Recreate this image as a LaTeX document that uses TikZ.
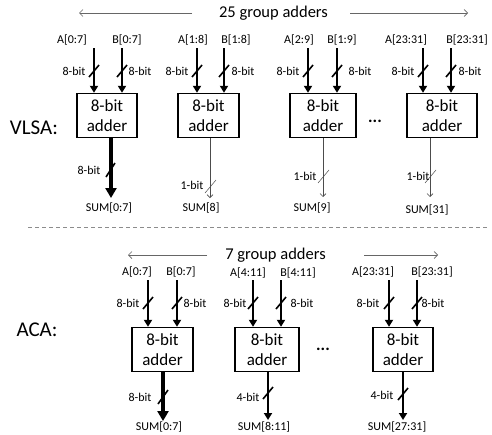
\documentclass[tikz,border=0pt]{standalone}
\usepackage{fontspec}
\setmainfont{Carlito}
\usetikzlibrary{arrows.meta}
\begin{document}
\begin{tikzpicture}[x=1pt,y=-1pt,
  lbl/.style={font=\fontsize{12}{14}\selectfont, inner sep=0pt},
  ttl/.style={font=\fontsize{16.5}{19}\selectfont, inner sep=0pt},
  big/.style={font=\fontsize{21}{24}\selectfont, inner sep=0pt},
  dots/.style={font=\fontsize{17}{20}\selectfont\bfseries, inner sep=0pt},
  adder/.style={draw, line width=1.4pt, align=center, inner sep=0pt,
    minimum height=44pt, font=\fontsize{17}{20}\selectfont},
  inarr/.style={line width=2.4pt, -{Triangle[width=8pt,length=7pt]}},
  outheavy/.style={line width=3.6pt, -{Triangle[width=11pt,length=10pt]}},
  outmed/.style={line width=2.4pt, -{Triangle[width=8pt,length=7pt]}},
  outthin/.style={line width=0.6pt, draw=black!70, -{Straight Barb[length=3pt,width=6pt]}},
  grparr/.style={line width=0.7pt, draw=black!60, -{Straight Barb[length=3.5pt,width=7pt]}},
  slk/.style={line width=1.6pt},
  sln/.style={line width=0.5pt, draw=black!70},
]
\useasboundingbox (0,0) rectangle (492,434);
\fill[white] (0,0) rectangle (492,434);

% ================= VLSA =================
\node[ttl] (t1) at (273.5,13) {25 group adders};
\coordinate (t1l) at (192,13); \coordinate (t1le) at (79,13);
\coordinate (t1r) at (350,13); \coordinate (t1re) at (468,13);
\draw[grparr] (t1l) -- (t1le);
\draw[grparr] (t1r) -- (t1re);

\node[big] (vlsa) at (34,128) {VLSA:};

\node[adder, minimum width=60pt] (v1) at (107,115.5) {8-bit\\adder};
\node[adder, minimum width=61pt] (v2) at (208.5,115.5) {8-bit\\adder};
\node[adder, minimum width=66pt] (v3) at (323,115.5) {8-bit\\adder};
\node[adder, minimum width=70pt] (v4) at (442,115.5) {8-bit\\adder};
\node[dots] (vd) at (375,121) {...};

% input labels
\node[lbl] (v1a) at (72,40) {A[0:7]};
\node[lbl] (v1b) at (127,40) {B[0:7]};
\node[lbl] (v2a) at (193,40) {A[1:8]};
\node[lbl] (v2b) at (236,40) {B[1:8]};
\node[lbl] (v3a) at (299,40) {A[2:9]};
\node[lbl] (v3b) at (342,40) {B[1:9]};
\node[lbl] (v4a) at (406,40) {A[23:31]};
\node[lbl] (v4b) at (467,40) {B[23:31]};

% input arrows
\foreach \n/\xa/\xb in {1/94/122, 2/197/224, 3/308/337, 4/423/451} {
  \coordinate (v\n as) at (\xa,48);
  \coordinate (v\n bs) at (\xb,48);
  \draw[inarr] (v\n as) -- (v\n as |- v\n.north);
  \draw[inarr] (v\n bs) -- (v\n bs |- v\n.north);
  \draw[slk] (\xa-5,77) -- (\xa+5,65);
  \draw[slk] (\xb-5,77) -- (\xb+5,65);
}
\node[lbl] at (74,71) {8-bit};
\node[lbl] at (140,71) {8-bit};
\node[lbl] at (177,71) {8-bit};
\node[lbl] at (243,71) {8-bit};
\node[lbl] at (288,71) {8-bit};
\node[lbl] at (360,71) {8-bit};
\node[lbl] at (403,71) {8-bit};
\node[lbl] at (470,71) {8-bit};

% outputs
\coordinate (v1o) at (111,198);
\draw[outheavy] (v1.south -| v1o) -- (v1o);
\draw[slk] (106,177) -- (115,163);
\node[lbl] at (89,170) {8-bit};
\node[lbl] (v1s) at (109,208) {SUM[0:7]};

\coordinate (v2o) at (210,198);
\draw[outthin] (v2.south -| v2o) -- (v2o);
\draw[sln] (205,193) -- (216,180);
\node[lbl] at (192,185) {1-bit};
\node[lbl] (v2s) at (201,208) {SUM[8]};

\coordinate (v3o) at (323,197);
\draw[outthin] (v3.south -| v3o) -- (v3o);
\draw[sln] (318,183) -- (329,170);
\node[lbl] at (305,176) {1-bit};
\node[lbl] (v3s) at (312,208) {SUM[9]};

\coordinate (v4o) at (430,197);
\draw[outthin] (v4.south -| v4o) -- (v4o);
\draw[sln] (425,183) -- (436,170);
\node[lbl] at (418,176) {1-bit};
\node[lbl] (v4s) at (427,210) {SUM[31]};

% separator
\coordinate (sepl) at (28,227); \coordinate (sepr) at (488,227);
\draw[black!45, line width=0.7pt, dash pattern=on 4pt off 3pt] (sepl) -- (sepr);

% ================= ACA =================
\node[ttl] (t2) at (275.5,255) {7 group adders};
\coordinate (t2l) at (207,255); \coordinate (t2le) at (128,255);
\coordinate (t2r) at (364,255); \coordinate (t2re) at (438,255);
\draw[grparr] (t2l) -- (t2le);
\draw[grparr] (t2r) -- (t2re);

\node[big] (aca) at (37,330) {ACA:};

\node[adder, minimum width=61pt] (c1) at (162.5,349.5) {8-bit\\adder};
\node[adder, minimum width=64pt] (c2) at (267,349.5) {8-bit\\adder};
\node[adder, minimum width=60pt] (c3) at (403,349.5) {8-bit\\adder};
\node[dots] (cd) at (323,349) {...};

\node[lbl] (c1a) at (137,272) {A[0:7]};
\node[lbl] (c1b) at (181,272) {B[0:7]};
\node[lbl] (c2a) at (248,273) {A[4:11]};
\node[lbl] (c2b) at (298,273) {B[4:11]};
\node[lbl] (c3a) at (373,272) {A[23:31]};
\node[lbl] (c3b) at (432,272) {B[23:31]};

\foreach \n/\xa/\xb in {1/148/177, 2/253/281, 3/389/417} {
  \coordinate (c\n as) at (\xa,280);
  \coordinate (c\n bs) at (\xb,280);
  \draw[inarr] (c\n as) -- (c\n as |- c\n.north);
  \draw[inarr] (c\n bs) -- (c\n bs |- c\n.north);
  \draw[slk] (\xa-5,309) -- (\xa+5,297);
  \draw[slk] (\xb-5,309) -- (\xb+5,297);
}
\node[lbl] at (128,303) {8-bit};
\node[lbl] at (195,303) {8-bit};
\node[lbl] at (235,303) {8-bit};
\node[lbl] at (302,303) {8-bit};
\node[lbl] at (368,303) {8-bit};
\node[lbl] at (433,303) {8-bit};

\coordinate (c1o) at (163,421);
\draw[outheavy] (c1.south -| c1o) -- (c1o);
\draw[slk] (158,404) -- (168,390);
\node[lbl] at (140,397) {8-bit};
\node[lbl] (c1s) at (159,427) {SUM[0:7]};

\coordinate (c2o) at (268,420);
\draw[outmed] (c2.south -| c2o) -- (c2o);
\draw[slk] (263,399) -- (273,387);
\node[lbl] at (248,397) {4-bit};
\node[lbl] (c2s) at (264,427) {SUM[8:11]};

\coordinate (c3o) at (403,420);
\draw[outmed] (c3.south -| c3o) -- (c3o);
\draw[slk] (398,400) -- (408,388);
\node[lbl] at (382,395) {4-bit};
\node[lbl] (c3s) at (397,427) {SUM[27:31]};
\end{tikzpicture}
\end{document}
